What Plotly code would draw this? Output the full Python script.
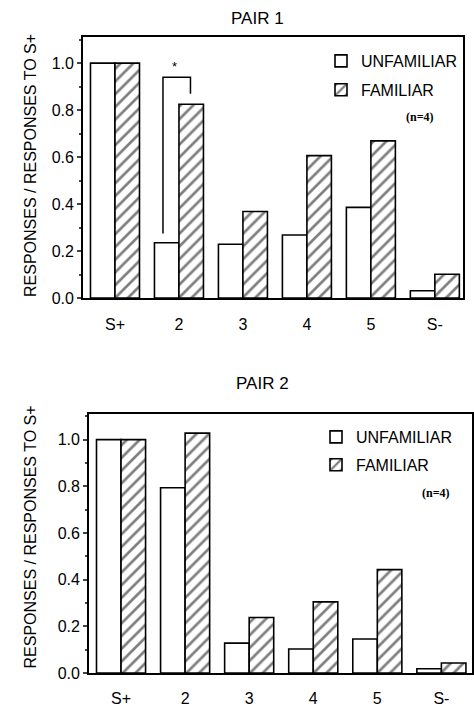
import plotly.graph_objects as go

categories = ["S+", "2", "3", "4", "5", "S-"]
pair1_unfamiliar = [1.0, 0.235, 0.229, 0.268, 0.386, 0.031]
pair1_familiar = [1.0, 0.825, 0.368, 0.606, 0.669, 0.101]
pair2_unfamiliar = [1.0, 0.794, 0.128, 0.103, 0.146, 0.018]
pair2_familiar = [1.0, 1.028, 0.238, 0.305, 0.443, 0.043]
y_ticks = [0.0, 0.2, 0.4, 0.6, 0.8, 1.0]

W, H = 474, 708
FONT = "Liberation Sans, Arial, Helvetica, sans-serif"
SERIF = "Liberation Serif, Times New Roman, serif"


def px(x):
    return x / W


def py(y):
    return 1 - y / H


fig = go.Figure()

panels = [
    dict(unf=pair1_unfamiliar, fam=pair1_familiar, xa="x", ya="y", leg="legend"),
    dict(unf=pair2_unfamiliar, fam=pair2_familiar, xa="x2", ya="y2", leg="legend2"),
]

for p in panels:
    fig.add_trace(go.Bar(
        x=categories, y=p["unf"], name="UNFAMILIAR", xaxis=p["xa"], yaxis=p["ya"],
        legend=p["leg"], legendgroup=p["leg"] + "u",
        marker=dict(color="white", line=dict(color="black", width=1.6)),
    ))
    fig.add_trace(go.Bar(
        x=categories, y=p["fam"], name="FAMILIAR", xaxis=p["xa"], yaxis=p["ya"],
        legend=p["leg"], legendgroup=p["leg"] + "f",
        marker=dict(color="white", line=dict(color="black", width=1.6),
                    pattern=dict(shape="/", fgcolor="black", bgcolor="white",
                                 size=9, solidity=0.3)),
    ))

axis_common = dict(showline=True, linecolor="black", linewidth=1.8, mirror=True,
                   showgrid=False, zeroline=False, automargin=False)

fig.update_layout(
    width=W, height=H,
    margin=dict(l=0, r=0, t=0, b=0, autoexpand=False),
    paper_bgcolor="white", plot_bgcolor="white",
    font=dict(family=FONT, size=16, color="black"),
    barmode="group", bargap=0.234, bargroupgap=0,
    xaxis=dict(domain=[px(83), px(463)], anchor="y", type="category",
               range=[-0.5, 5.44], ticks="", ticklabelstandoff=11, **axis_common),
    yaxis=dict(domain=[py(298), py(37.3)], anchor="x", range=[0, 1.11],
               tickvals=y_ticks, ticktext=[f"{v:.1f}" for v in y_ticks],
               ticks="outside", ticklen=4, tickwidth=1.5,
               minor=dict(ticks="outside", ticklen=2, tickwidth=1.5, dtick=0.1, tick0=0),
               **axis_common),
    xaxis2=dict(domain=[px(89), px(471.5)], anchor="y2", type="category",
                range=[-0.5, 5.47], ticks="", ticklabelstandoff=10, **axis_common),
    yaxis2=dict(domain=[py(673), py(414)], anchor="x2", range=[0, 1.11],
                tickvals=y_ticks, ticktext=[f"{v:.1f}" for v in y_ticks],
                ticks="outside", ticklen=4, tickwidth=1.5,
                minor=dict(ticks="outside", ticklen=2, tickwidth=1.5, dtick=0.1, tick0=0),
                **axis_common),
    legend=dict(x=px(321), y=py(44), xanchor="left", yanchor="top",
                bgcolor="rgba(0,0,0,0)", font=dict(size=16), tracegroupgap=5),
    legend2=dict(x=px(316), y=py(420), xanchor="left", yanchor="top",
                 bgcolor="rgba(0,0,0,0)", font=dict(size=16), tracegroupgap=4),
    showlegend=True,
)


def ann(text, x, y, size, **kw):
    fig.add_annotation(text=text, x=px(x), y=py(y), xref="paper", yref="paper",
                       xanchor="center", yanchor="middle", showarrow=False,
                       font=dict(size=size, family=kw.pop("family", FONT)), **kw)


# Titles
ann("PAIR 1", 257, 18, 17)
ann("PAIR 2", 262, 383, 17)

# Y axis titles
ann("RESPONSES / RESPONSES TO S+", 30, 166, 16, textangle=-90)
ann("RESPONSES / RESPONSES TO S+", 30, 537.5, 16, textangle=-90)

# (n=4)
ann("<b>(n=4)</b>", 420, 117, 12, family=SERIF)
ann("<b>(n=4)</b>", 436, 493, 12, family=SERIF)

# Significance bracket, pair 1, category "2" (index 1)
left_x = 1 - 0.25
right_x = 1 + 0.18
top_y = 0.94
fig.add_shape(type="path", xref="x", yref="y",
              path=f"M {left_x} {pair1_unfamiliar[1] + 0.04} L {left_x} {top_y} L {right_x} {top_y} L {right_x} {top_y - 0.07}",
              line=dict(color="black", width=1.5))
fig.add_annotation(text="*", x=1 - 0.07, y=0.985, xref="x", yref="y", showarrow=False,
                   xanchor="center", yanchor="middle", font=dict(size=13, color="black"))

fig.write_html("out.html")
